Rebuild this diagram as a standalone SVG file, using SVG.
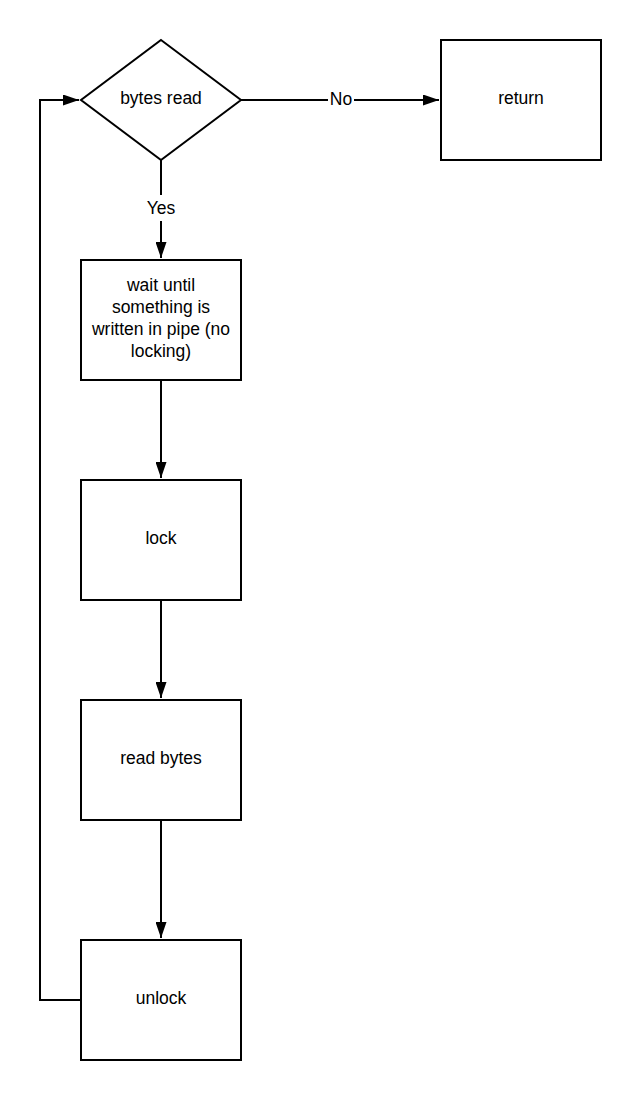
<svg xmlns="http://www.w3.org/2000/svg" width="641" height="1100" viewBox="0 0 641 1100">
<style>
.shape{fill:#fff;stroke:#000;stroke-width:2}
.edge{fill:none;stroke:#000;stroke-width:2}
.t{font-family:"Liberation Sans",Arial,sans-serif;font-size:17.5px;fill:#000;text-anchor:middle}
.lbl{fill:#fff}
</style>
<defs>
<marker id="arr" viewBox="0 0 16 11" refX="16" refY="5.5" markerWidth="16" markerHeight="11" markerUnits="userSpaceOnUse" orient="auto">
<path d="M0,0 L16,5.5 L0,11 Z" fill="#000"/>
</marker>
</defs>
<rect width="641" height="1100" fill="#fff"/>
<g id="connectors">
<path class="edge" d="M241,100 L439,100" marker-end="url(#arr)"/>
<rect class="lbl" x="328" y="90" width="26" height="20"/>
<text class="t" x="341" y="105">No</text>
<path class="edge" d="M161,160 L161,258" marker-end="url(#arr)"/>
<rect class="lbl" x="143" y="195" width="36" height="26"/>
<text class="t" x="161" y="214">Yes</text>
<path class="edge" d="M161,380 L161,478" marker-end="url(#arr)"/>
<path class="edge" d="M161,600 L161,698" marker-end="url(#arr)"/>
<path class="edge" d="M161,820 L161,938" marker-end="url(#arr)"/>
<path class="edge" d="M81,1000 L40,1000 L40,100 L79,100" marker-end="url(#arr)"/>
</g>
<g id="decision">
<path class="shape" d="M161,40 L241,100 L161,160 L81,100 Z"/>
<text class="t" x="161" y="104">bytes read</text>
</g>
<g id="return">
<rect class="shape" x="441" y="40" width="160" height="120"/>
<text class="t" x="521" y="104">return</text>
</g>
<g id="wait">
<rect class="shape" x="81" y="260" width="160" height="120"/>
<text class="t" x="161" y="291">wait until</text>
<text class="t" x="161" y="313">something is</text>
<text class="t" x="161" y="335">written in pipe (no</text>
<text class="t" x="161" y="357">locking)</text>
</g>
<g id="lock">
<rect class="shape" x="81" y="480" width="160" height="120"/>
<text class="t" x="161" y="544">lock</text>
</g>
<g id="read">
<rect class="shape" x="81" y="700" width="160" height="120"/>
<text class="t" x="161" y="764">read bytes</text>
</g>
<g id="unlock">
<rect class="shape" x="81" y="940" width="160" height="120"/>
<text class="t" x="161" y="1004">unlock</text>
</g>
</svg>
